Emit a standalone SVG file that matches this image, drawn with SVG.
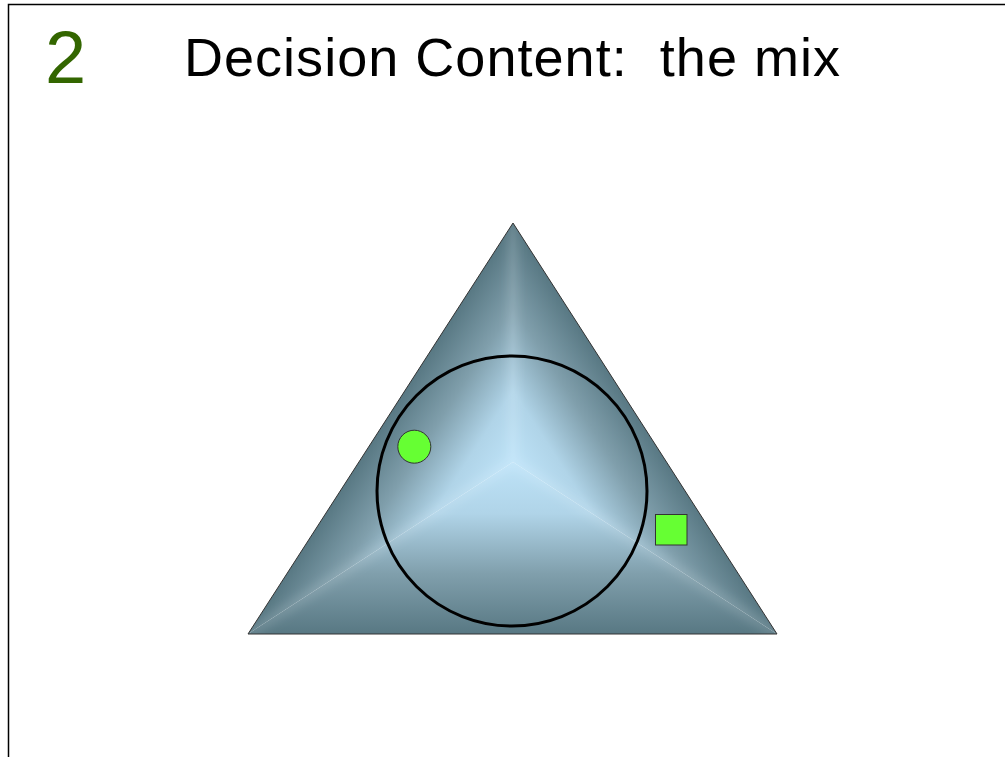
<svg xmlns="http://www.w3.org/2000/svg" width="1005" height="757" viewBox="0 0 1005 757">
  <style>
    .title { font-family: "Liberation Sans", Arial, sans-serif; fill: #000000; }
    .num { font-family: "Liberation Sans", Arial, sans-serif; fill: #336600; }
    .marker { fill: #66FF33; stroke: #333333; stroke-width: 1; }
    .seam { stroke: #ffffff; stroke-opacity: 0.12; stroke-width: 10; fill: none; }
  </style>
  <defs>
    <linearGradient id="gBase" gradientUnits="userSpaceOnUse" x1="513" y1="462" x2="513" y2="634">
      <stop offset="0" stop-color="#BEE3F8"/>
      <stop offset="0.3" stop-color="#B0D4E8"/>
      <stop offset="0.65" stop-color="#809FAC"/>
      <stop offset="1" stop-color="#587883"/>
    </linearGradient>
    <linearGradient id="gLeft" gradientUnits="userSpaceOnUse" x1="513" y1="462" x2="404.2" y2="391.8">
      <stop offset="0" stop-color="#BEE3F8"/>
      <stop offset="0.3" stop-color="#B0D4E8"/>
      <stop offset="0.65" stop-color="#809FAC"/>
      <stop offset="1" stop-color="#587883"/>
    </linearGradient>
    <linearGradient id="gRight" gradientUnits="userSpaceOnUse" x1="513" y1="462" x2="621.8" y2="391.8">
      <stop offset="0" stop-color="#BEE3F8"/>
      <stop offset="0.3" stop-color="#B0D4E8"/>
      <stop offset="0.65" stop-color="#809FAC"/>
      <stop offset="1" stop-color="#587883"/>
    </linearGradient>
    <filter id="blur" x="-20%" y="-20%" width="140%" height="140%">
      <feGaussianBlur stdDeviation="5"/>
    </filter>
    <clipPath id="triClip">
      <polygon points="513,223 248,634 777,634"/>
    </clipPath>
  </defs>

  <g id="frame">
    <path d="M8.5,757 V4.5 H1005" fill="none" stroke="#000000" stroke-width="1.5"/>
  </g>

  <g id="slide-number">
    <text class="num" x="45" y="82.7" font-size="74">2</text>
  </g>

  <g id="title">
    <text class="title" x="184" y="76" font-size="54" textLength="656" lengthAdjust="spacing" xml:space="preserve">Decision Content:  the mix</text>
  </g>

  <g id="triangle">
    <polygon points="513,462 248,634 777,634" fill="url(#gBase)"/>
    <polygon points="513,462 513,223 248,634" fill="url(#gLeft)"/>
    <polygon points="513,462 513,223 777,634" fill="url(#gRight)"/>
    <g clip-path="url(#triClip)">
      <path class="seam" filter="url(#blur)" d="M513,462 L513,223 M513,462 L248,634 M513,462 L777,634"/>
    </g>
    <polygon points="513,223 248,634 777,634" fill="none" stroke="#333333" stroke-width="1"/>
  </g>

  <g id="circle">
    <circle cx="512" cy="491" r="135" fill="none" stroke="#000000" stroke-width="3"/>
  </g>

  <g id="green-dot">
    <circle class="marker" cx="414.3" cy="446.7" r="16.5"/>
  </g>

  <g id="green-square">
    <rect class="marker" x="655.5" y="514.5" width="31.5" height="30.5"/>
  </g>
</svg>
